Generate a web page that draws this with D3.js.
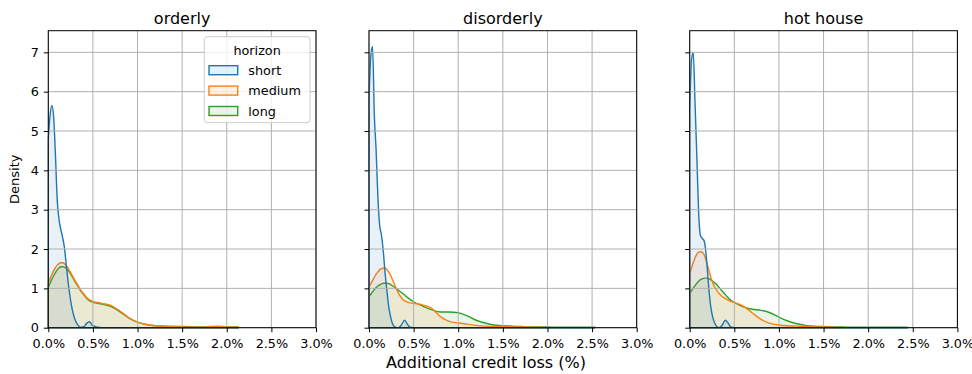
<!DOCTYPE html>
<html>
<head>
<meta charset="utf-8">
<script src="https://cdn.jsdelivr.net/npm/d3@7"></script>
<style>
  body { margin: 0; background: #fff; }
  text { font-family: "DejaVu Sans", sans-serif; }
</style>
</head>
<body>
<div id="chart"></div>
<script>
// data (credit loss in %, density)
var scenarios = ["orderly", "disorderly", "hot house"];
var horizons = ["short", "medium", "long"];
var colors = ["#1f77b4", "#ff7f0e", "#2ca02c"];
var xTicks = [0, 0.5, 1, 1.5, 2, 2.5, 3];
var yTicks = [0, 1, 2, 3, 4, 5, 6, 7];

var xOrderly = [0, 0.02, 0.04, 0.06, 0.08, 0.10, 0.12, 0.14, 0.16, 0.18, 0.20, 0.22, 0.24, 0.26, 0.28, 0.30, 0.33, 0.36, 0.40, 0.43, 0.46, 0.50,
  0.60, 0.70, 0.80, 0.90, 1.00, 1.10, 1.20, 1.30, 1.40, 1.50, 1.60, 1.70, 1.80, 1.90, 2.00, 2.13];
var xDisorderly = [0, 0.02, 0.04, 0.06, 0.08, 0.10, 0.12, 0.14, 0.16, 0.18, 0.20, 0.22, 0.24, 0.26, 0.28, 0.30, 0.33, 0.36, 0.40, 0.43, 0.46, 0.50,
  0.60, 0.70, 0.80, 0.90, 1.00, 1.10, 1.20, 1.30, 1.40, 1.50, 1.60, 1.70, 1.80, 1.90, 2.00, 2.10, 2.20, 2.30, 2.40, 2.53];
var xHotHouse = [0, 0.02, 0.04, 0.06, 0.08, 0.10, 0.12, 0.14, 0.16, 0.18, 0.20, 0.22, 0.24, 0.26, 0.28, 0.30, 0.33, 0.36, 0.40, 0.43, 0.46, 0.50,
  0.60, 0.70, 0.80, 0.90, 1.00, 1.10, 1.20, 1.30, 1.40, 1.50, 1.60, 1.70, 1.80, 1.90, 2.00, 2.10, 2.20, 2.30, 2.44];

var orderlyShort = [4.8, 5.4, 5.65, 5.35, 4.4, 3.25, 2.75, 2.5, 2.3, 2.05, 1.62, 1.2, 0.85, 0.56, 0.35, 0.2, 0.07, 0.01, 0.03, 0.11, 0.15, 0.05,
  0, 0, 0, 0, 0, 0, 0, 0, 0, 0, 0, 0, 0, 0, 0, 0];
var orderlyMedium = [1.15, 1.25, 1.35, 1.45, 1.53, 1.59, 1.63, 1.65, 1.65, 1.63, 1.58, 1.52, 1.44, 1.36, 1.28, 1.2, 1.08, 0.97, 0.85, 0.77, 0.71, 0.67,
  0.62, 0.57, 0.43, 0.26, 0.14, 0.08, 0.05, 0.04, 0.03, 0.02, 0.01, 0.01, 0.03, 0.04, 0.02, 0.01];
var orderlyLong = [1.03, 1.13, 1.23, 1.32, 1.4, 1.47, 1.52, 1.55, 1.55, 1.54, 1.51, 1.46, 1.4, 1.33, 1.25, 1.17, 1.06, 0.95, 0.83, 0.75, 0.69, 0.65,
  0.6, 0.54, 0.41, 0.25, 0.14, 0.08, 0.05, 0.04, 0.03, 0.03, 0.02, 0.02, 0.02, 0.02, 0.02, 0.02];

var disorderlyShort = [5.8, 6.9, 7.15, 5.4, 4.5, 3.3, 2.6, 2.35, 1.95, 1.4, 0.95, 0.55, 0.3, 0.12, 0.04, 0.01, 0, 0.06, 0.19, 0.09, 0.01, 0,
  0, 0, 0, 0, 0, 0, 0, 0, 0, 0, 0, 0, 0, 0, 0, 0, 0, 0, 0, 0];
var disorderlyMedium = [1.04, 1.12, 1.2, 1.28, 1.36, 1.42, 1.47, 1.5, 1.51, 1.51, 1.48, 1.42, 1.34, 1.24, 1.13, 1.02, 0.88, 0.77, 0.68, 0.65, 0.63, 0.62,
  0.58, 0.5, 0.28, 0.16, 0.12, 0.09, 0.06, 0.04, 0.03, 0.03, 0.02, 0.02, 0.02, 0.01, 0];
var disorderlyLong = [0.79, 0.85, 0.91, 0.97, 1.02, 1.06, 1.09, 1.11, 1.13, 1.13, 1.13, 1.12, 1.1, 1.07, 1.04, 1.0, 0.95, 0.9, 0.83, 0.77, 0.72, 0.66,
  0.55, 0.46, 0.4, 0.4, 0.38, 0.3, 0.19, 0.12, 0.07, 0.05, 0.04, 0.03, 0.02, 0.02, 0.02, 0.01, 0.01, 0.01, 0.01, 0.01];

var hotHouseShort = [5.5, 6.8, 7.0, 5.7, 4.35, 2.95, 2.35, 2.27, 2.22, 1.95, 1.42, 0.85, 0.47, 0.25, 0.12, 0.04, 0, 0.05, 0.19, 0.12, 0.02, 0,
  0, 0, 0, 0, 0, 0, 0, 0, 0, 0, 0, 0, 0, 0, 0, 0, 0, 0, 0];
var hotHouseMedium = [1.38, 1.52, 1.66, 1.78, 1.87, 1.92, 1.93, 1.92, 1.86, 1.74, 1.58, 1.42, 1.26, 1.13, 1.03, 0.96, 0.87, 0.8, 0.74, 0.7, 0.67, 0.64,
  0.55, 0.38, 0.21, 0.11, 0.07, 0.05, 0.04, 0.03, 0.02, 0.02, 0.01, 0];
var hotHouseLong = [0.87, 0.94, 1.01, 1.07, 1.13, 1.18, 1.22, 1.24, 1.26, 1.26, 1.26, 1.24, 1.21, 1.18, 1.14, 1.1, 1.02, 0.94, 0.84, 0.76, 0.7, 0.64,
  0.53, 0.47, 0.44, 0.38, 0.27, 0.17, 0.1, 0.06, 0.04, 0.03, 0.02, 0.02, 0.01, 0.01, 0.01, 0.01, 0.01, 0.01, 0.01];

var panels = [
  { grid: xOrderly, series: [orderlyShort, orderlyMedium, orderlyLong] },
  { grid: xDisorderly, series: [disorderlyShort, disorderlyMedium, disorderlyLong] },
  { grid: xHotHouse, series: [hotHouseShort, hotHouseMedium, hotHouseLong] }
];

// layout
var svgWidth = 972, svgHeight = 374;
var firstLeft = 48.3, panelStep = 320.7, panelTop = 30.7;
var width = 267.7, height = 297;

var svg = d3.select("#chart")
  .append("svg")
  .attr("width", svgWidth)
  .attr("height", svgHeight);

var xScale = d3.scaleLinear().domain([0, 3]).range([0, width]);
var yScale = d3.scaleLinear().domain([0, 7.55]).range([height, 0]);

var area = d3.area()
  .x(d => xScale(d[0]))
  .y0(yScale(0))
  .y1(d => yScale(d[1]))
  .curve(d3.curveMonotoneX);

scenarios.forEach(function (name, i) {
  var g = svg.append("g")
    .attr("transform", `translate(${firstLeft + i * panelStep}, ${panelTop})`);

  // densities, last hue first so "short" ends up on top
  for (var k = horizons.length - 1; k >= 0; k--) {
    var pts = panels[i].series[k].map((v, j) => [panels[i].grid[j], v]);
    g.append("path")
      .attr("d", area(pts))
      .attr("fill", colors[k])
      .attr("fill-opacity", 0.1)
      .attr("stroke", colors[k])
      .attr("stroke-width", 1.4)
      .attr("stroke-linejoin", "round");
  }

  // grid
  g.selectAll(".vgrid")
    .data(xTicks)
    .enter()
    .append("line")
    .attr("x1", d => xScale(d))
    .attr("x2", d => xScale(d))
    .attr("y1", 0)
    .attr("y2", height)
    .attr("stroke", "#b0b0b0")
    .attr("stroke-width", 1);

  g.selectAll(".hgrid")
    .data(yTicks)
    .enter()
    .append("line")
    .attr("x1", 0)
    .attr("x2", width)
    .attr("y1", d => yScale(d))
    .attr("y2", d => yScale(d))
    .attr("stroke", "#b0b0b0")
    .attr("stroke-width", 1);

  // axes
  var xAxis = d3.axisBottom(xScale)
    .tickValues(xTicks)
    .tickSize(4.5)
    .tickPadding(7)
    .tickFormat(d => d3.format(".1f")(d) + "%");

  var yAxis = d3.axisLeft(yScale)
    .tickValues(yTicks)
    .tickSize(4.5)
    .tickPadding(5)
    .tickFormat(i === 0 ? d3.format("d") : "");

  var xg = g.append("g")
    .attr("transform", `translate(0, ${height})`)
    .call(xAxis);
  var yg = g.append("g").call(yAxis);

  [xg, yg].forEach(function (ax) {
    ax.select(".domain").remove();
    ax.attr("font-family", "DejaVu Sans").attr("font-size", 12.8);
    ax.selectAll("line").attr("stroke", "#000").attr("stroke-width", 1);
    ax.selectAll("text").attr("fill", "#000");
  });

  // spines
  g.append("rect")
    .attr("width", width)
    .attr("height", height)
    .attr("fill", "none")
    .attr("stroke", "#000")
    .attr("stroke-width", 1);

  // title
  g.append("text")
    .attr("x", width / 2)
    .attr("y", 23.5 - panelTop)
    .attr("text-anchor", "middle")
    .attr("font-size", 16)
    .text(name);
});

// y label
svg.append("text")
  .attr("transform", `translate(18.5, ${panelTop + height / 2}) rotate(-90)`)
  .attr("text-anchor", "middle")
  .attr("font-size", 13)
  .text("Density");

// x label
svg.append("text")
  .attr("x", svgWidth / 2)
  .attr("y", 368)
  .attr("text-anchor", "middle")
  .attr("font-size", 16)
  .text("Additional credit loss (%)");

// legend
var legend = svg.append("g").attr("transform", "translate(204.3, 36.7)");

legend.append("rect")
  .attr("width", 105.7)
  .attr("height", 86)
  .attr("rx", 3)
  .attr("fill", "#fff")
  .attr("fill-opacity", 0.8)
  .attr("stroke", "#cccccc")
  .attr("stroke-width", 1);

legend.append("text")
  .attr("x", 52.8)
  .attr("y", 18.3)
  .attr("text-anchor", "middle")
  .attr("font-size", 12.8)
  .text("horizon");

horizons.forEach(function (h, k) {
  var row = legend.append("g").attr("transform", `translate(0, ${29 + k * 20.4})`);
  row.append("rect")
    .attr("x", 4.7)
    .attr("width", 28.7)
    .attr("height", 9)
    .attr("fill", colors[k])
    .attr("fill-opacity", 0.1)
    .attr("stroke", colors[k])
    .attr("stroke-width", 1.4);
  row.append("text")
    .attr("x", 44)
    .attr("y", 9)
    .attr("font-size", 12.8)
    .text(h);
});
</script>
</body>
</html>
